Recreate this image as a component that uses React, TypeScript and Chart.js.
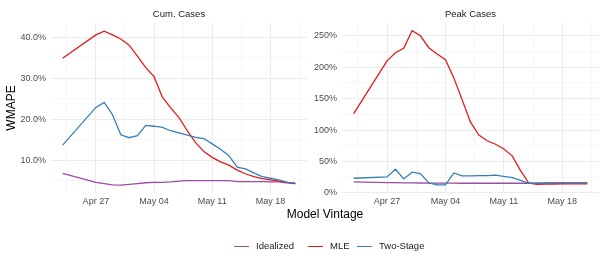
import React, { useEffect, useRef } from 'react';
import { Chart, registerables } from 'chart.js';
Chart.register(...registerables);

const FONT = '"Liberation Sans", Arial, Helvetica, sans-serif';

const vintages = [
  '2020-04-23', '2020-04-27', '2020-04-28', '2020-04-29', '2020-04-30',
  '2020-05-01', '2020-05-02', '2020-05-03', '2020-05-04', '2020-05-05',
  '2020-05-06', '2020-05-07', '2020-05-08', '2020-05-09', '2020-05-10',
  '2020-05-11', '2020-05-12', '2020-05-13', '2020-05-14', '2020-05-15',
  '2020-05-16', '2020-05-17', '2020-05-18', '2020-05-19', '2020-05-20',
  '2020-05-21',
];

const tickDates = ['2020-04-27', '2020-05-04', '2020-05-11', '2020-05-18'];
const tickLabels = ['Apr 27', 'May 04', 'May 11', 'May 18'];

const seriesNames = ['Idealized', 'MLE', 'Two-Stage'];
const seriesColors = ['#984EA3', '#E41A1C', '#377EB8'];

// Cum. Cases (WMAPE, %)
const cumIdealized = [6.8, 4.6, 4.3, 4.0, 3.9, 4.1, 4.3, 4.5, 4.6, 4.6, 4.7, 4.9, 5.0, 5.0, 5.0, 5.0, 5.0, 5.0, 4.8, 4.8, 4.8, 4.8, 4.7, 4.7, 4.5, 4.3];
const cumMLE = [34.9, 40.6, 41.5, 40.6, 39.6, 38.1, 35.4, 32.6, 30.4, 25.4, 22.8, 20.4, 17.2, 14.3, 12.1, 10.7, 9.6, 8.8, 7.6, 6.7, 6.0, 5.5, 5.2, 4.9, 4.6, 4.3];
const cumTwoStage = [13.7, 22.9, 24.1, 21.1, 16.2, 15.5, 16.0, 18.5, 18.3, 18.0, 17.2, 16.7, 16.1, 15.6, 15.3, 14.0, 12.7, 11.1, 8.3, 7.9, 6.9, 6.0, 5.6, 5.2, 4.6, 4.4];

// Peak Cases (WMAPE, %)
const peakIdealized = [17.5, 16.5, 16.3, 16.1, 16.0, 15.8, 15.7, 15.6, 15.5, 15.5, 15.4, 15.4, 15.4, 15.4, 15.4, 15.4, 15.4, 15.4, 15.4, 15.5, 15.6, 15.7, 15.8, 15.8, 15.9, 15.9];
const peakMLE = [126, 210, 223, 230, 258, 250, 231, 221, 212, 183, 148, 112.5, 92, 83, 77.5, 70, 59, 35.5, 15.4, 13.8, 14.0, 14.2, 14.3, 14.4, 14.4, 14.5];
const peakTwoStage = [23.4, 25.5, 37.7, 22.3, 33, 30.8, 15.9, 12.7, 12.7, 31.8, 27, 27, 27.4, 27.4, 28.2, 26.5, 24.4, 20, 15.4, 15.6, 15.8, 15.9, 16.0, 16.0, 16.0, 16.0];

const DAY = 86400000;
const T0 = Date.parse(vintages[0]);
const dayOf = (d: string) => (Date.parse(d) - T0) / DAY;
const X_MIN = -1.4;
const X_MAX = 29.4;

const majorX = tickDates.map(dayOf);
function xTickValues(): number[] {
  const vals: number[] = [];
  let v = majorX[0];
  while (v - 3.5 >= X_MIN) v -= 3.5;
  for (; v <= X_MAX; v += 3.5) vals.push(v);
  return vals;
}

type PanelOpts = {
  title: string;
  series: number[][];
  yMin: number;
  yMax: number;
  yStep: number;
  yMajorEvery: number;
  fmt: (v: number) => string;
  yTitle?: string;
  yWidth: number;
  padRight: number;
};

function makeChart(canvas: HTMLCanvasElement, o: PanelOpts) {
  const xs = vintages.map(dayOf);
  const order = [2, 1, 0];
  const datasets = order.map((i) => ({
    label: seriesNames[i],
    data: o.series[i].map((y, k) => ({ x: xs[k], y })),
    borderColor: seriesColors[i],
    backgroundColor: seriesColors[i],
    borderWidth: 1.3,
    pointRadius: 0,
    tension: 0,
    fill: false,
  }));
  const isMajorY = (v: number) => Math.abs(v / o.yMajorEvery - Math.round(v / o.yMajorEvery)) < 1e-6;
  const isMajorX = (v: number) => majorX.some((m) => Math.abs(m - v) < 1e-6);
  const yVals: number[] = [];
  for (let v = Math.ceil(o.yMin / o.yStep) * o.yStep; v <= o.yMax; v += o.yStep) yVals.push(v);

  return new Chart(canvas, {
    type: 'line',
    data: { datasets },
    options: {
      animation: false,
      responsive: false,
      maintainAspectRatio: false,
      devicePixelRatio: 1,
      layout: { padding: { left: 0, right: o.padRight, top: 0, bottom: 0 } },
      plugins: {
        legend: { display: false },
        tooltip: { enabled: false },
        title: {
          display: true,
          text: o.title,
          fullSize: false,
          color: '#1a1a1a',
          font: { family: FONT, size: 9.5, weight: 'normal', lineHeight: 1.2 },
          padding: { top: 9, bottom: 2.6 },
        },
      },
      scales: {
        x: {
          type: 'linear',
          min: X_MIN,
          max: X_MAX,
          border: { display: false },
          afterBuildTicks: (scale: any) => {
            scale.ticks = xTickValues().map((v) => ({ value: v }));
          },
          afterFit: (scale: any) => {
            scale.height = 17;
          },
          grid: {
            drawTicks: false,
            color: (ctx: any) => (ctx.tick && isMajorX(ctx.tick.value) ? '#ebebeb' : '#f5f5f5'),
            lineWidth: (ctx: any) => (ctx.tick && isMajorX(ctx.tick.value) ? 1 : 0.8),
          },
          ticks: {
            autoSkip: false,
            maxRotation: 0,
            padding: 3,
            color: '#4d4d4d',
            font: { family: FONT, size: 9 },
            callback: (v: any) => {
              const i = majorX.findIndex((m) => Math.abs(m - Number(v)) < 1e-6);
              return i >= 0 ? tickLabels[i] : '';
            },
          },
        },
        y: {
          type: 'linear',
          min: o.yMin,
          max: o.yMax,
          border: { display: false },
          afterBuildTicks: (scale: any) => {
            scale.ticks = yVals.map((v) => ({ value: v }));
          },
          afterFit: (scale: any) => {
            scale.width = o.yWidth;
          },
          grid: {
            drawTicks: false,
            color: (ctx: any) => (ctx.tick && isMajorY(ctx.tick.value) ? '#ebebeb' : '#f5f5f5'),
            lineWidth: (ctx: any) => (ctx.tick && isMajorY(ctx.tick.value) ? 1 : 0.8),
          },
          ticks: {
            autoSkip: false,
            padding: 5,
            color: '#4d4d4d',
            font: { family: FONT, size: 9 },
            callback: (v: any) => (isMajorY(Number(v)) ? o.fmt(Number(v)) : ''),
          },
          title: {
            display: !!o.yTitle,
            text: o.yTitle || '',
            color: '#000000',
            font: { family: FONT, size: 12, lineHeight: 1.2 },
            padding: { top: 4, bottom: 0 },
          },
        },
      },
    } as any,
  });
}

export default function App() {
  const leftRef = useRef<HTMLCanvasElement>(null);
  const rightRef = useRef<HTMLCanvasElement>(null);

  useEffect(() => {
    const c1 = makeChart(leftRef.current!, {
      title: 'Cum. Cases',
      series: [cumIdealized, cumMLE, cumTwoStage],
      yMin: 2.0,
      yMax: 43.5,
      yStep: 5,
      yMajorEvery: 10,
      fmt: (v) => v.toFixed(1) + '%',
      yTitle: 'WMAPE',
      yWidth: 51,
      padRight: 3,
    });
    const c2 = makeChart(rightRef.current!, {
      title: 'Peak Cases',
      series: [peakIdealized, peakMLE, peakTwoStage],
      yMin: -0.1,
      yMax: 270.3,
      yStep: 25,
      yMajorEvery: 50,
      fmt: (v) => Math.round(v) + '%',
      yWidth: 32,
      padRight: 6,
    });
    return () => {
      c1.destroy();
      c2.destroy();
    };
  }, []);

  const legendText: React.CSSProperties = {
    position: 'absolute',
    top: 240,
    fontFamily: FONT,
    fontSize: 9.5,
    lineHeight: '12px',
    color: '#1a1a1a',
    whiteSpace: 'nowrap',
  };
  const swatch = (left: number, color: string): React.CSSProperties => ({
    position: 'absolute',
    left,
    top: 245.5,
    width: 15,
    height: 1.3,
    background: color,
  });

  return (
    <div style={{ position: 'fixed', left: 0, top: 0, width: 605, height: 267, background: '#ffffff', overflow: 'hidden' }}>
      <canvas ref={leftRef} width={310} height={210} style={{ position: 'absolute', left: 0, top: 0, width: 310, height: 210 }} />
      <canvas ref={rightRef} width={295} height={210} style={{ position: 'absolute', left: 310, top: 0, width: 295, height: 210 }} />
      <div
        style={{
          position: 'absolute',
          left: 225,
          width: 200,
          top: 207,
          textAlign: 'center',
          fontFamily: FONT,
          fontSize: 12,
          lineHeight: '14px',
          color: '#000000',
        }}
      >
        Model Vintage
      </div>
      <div style={swatch(234, seriesColors[0])} />
      <div style={{ ...legendText, left: 256 }}>{seriesNames[0]}</div>
      <div style={swatch(308, seriesColors[1])} />
      <div style={{ ...legendText, left: 330 }}>{seriesNames[1]}</div>
      <div style={swatch(357, seriesColors[2])} />
      <div style={{ ...legendText, left: 379 }}>{seriesNames[2]}</div>
    </div>
  );
}
